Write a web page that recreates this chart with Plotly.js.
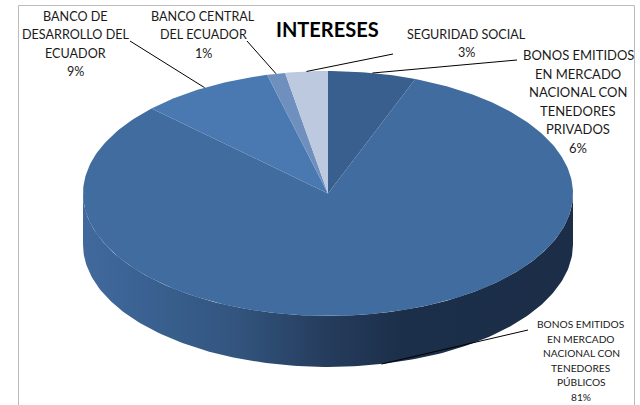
<!DOCTYPE html>
<html><head><meta charset="utf-8">
<script src="https://cdn.plot.ly/plotly-3.0.1.min.js"></script>
<style>html,body{margin:0;padding:0;background:#fff}</style></head>
<body><div id="chart" style="width:640px;height:405px"></div>
<script>
const categories = ["BONOS EMITIDOS EN MERCADO NACIONAL CON TENEDORES PRIVADOS","BONOS EMITIDOS EN MERCADO NACIONAL CON TENEDORES PÚBLICOS","BANCO DE DESARROLLO DEL ECUADOR","BANCO CENTRAL DEL ECUADOR","SEGURIDAD SOCIAL"];
const values = [5.8, 81.4, 8.8, 1.2, 2.8];
const sliceColors = ["#385F8D","#416CA0","#4A79B1","#6F90BF","#BDC9DE"];
const labelLines = [
  ["BONOS EMITIDOS","EN MERCADO","NACIONAL CON","TENEDORES","PRIVADOS"],
  ["BONOS EMITIDOS","EN MERCADO","NACIONAL CON","TENEDORES","PÚBLICOS"],
  ["BANCO DE","DESARROLLO DEL","ECUADOR"],
  ["BANCO CENTRAL","DEL ECUADOR"],
  ["SEGURIDAD SOCIAL"]
];
// label layout: centre x, first-line y, line pitch, font size, elbow of leader line
const labelX = [578, 581, 75, 203, 466];
const labelY = [55, 324, 16, 16, 34];
const labelPitch = [18.6, 14.6, 18.6, 18.6, 18];
const labelSize = [13, 10.2, 12.6, 12.6, 12.6];
const elbowX = [517, 528, 130, 247, 393];
const elbowY = [60, 330, 41, 41, 54];
const frameX = [18.5, 18.5, 634.5, 634.5];
const frameY = [405, 5.5, 5.5, 405];

const cx = 328, cy = 193.5, rx = 245, ry = 122.5, depth = 51;
const ex = a => cx + rx * Math.sin(a), ey = a => cy - ry * Math.cos(a);
const total = values.reduce((s, v) => s + v, 0);
const traces = [];

// chart frame
traces.push({type:'scatter',mode:'lines',x:frameX,y:frameY,line:{color:'#BBBBBB',width:1},hoverinfo:'skip'});

// side wall
const sx = [], sy = [];
for (let i = 0; i <= 180; i++) { const a = Math.PI/2 + i*Math.PI/180; sx.push(ex(a)); sy.push(ey(a)+depth); }
for (let i = 180; i >= 0; i--) { const a = Math.PI/2 + i*Math.PI/180; sx.push(ex(a)); sy.push(ey(a)); }
traces.push({type:'scatter',mode:'lines',x:sx,y:sy,fill:'toself',line:{width:0},hoverinfo:'skip',
  fillgradient:{type:'horizontal',colorscale:[[0,'#41699C'],[0.1,'#3B6394'],[0.3,'#335680'],[0.5,'#253C5C'],[0.65,'#1C2F4A'],[1,'#1B2D47']]}});

// top wedges
let acc = 0; const mids = [];
values.forEach((v,k) => {
  const a0 = acc/total*2*Math.PI, a1 = (acc+v)/total*2*Math.PI; acc += v;
  mids.push((a0+a1)/2);
  const n = Math.max(4, Math.ceil(v*4)), x=[cx], y=[cy];
  for (let i=0;i<=n;i++){const a=a0+(a1-a0)*i/n; x.push(ex(a)); y.push(ey(a));}
  x.push(cx); y.push(cy);
  traces.push({type:'scatter',mode:'lines',x,y,fill:'toself',fillcolor:sliceColors[k],line:{width:0},name:categories[k],hoverinfo:'name'});
});

// leader lines
values.forEach((v,k) => {
  const a = mids[k], front = Math.cos(a) < -0.5;
  traces.push({type:'scatter',mode:'lines',x:[elbowX[k],ex(a)],y:[elbowY[k],ey(a)+(front?depth:0)],
    line:{color:'#000',width:1},hoverinfo:'skip'});
});

const annotations = [{xref:'x',yref:'y',x:327,y:29,text:'<b>INTERESES</b>',showarrow:false,font:{family:'Lato',size:20,color:'#000'}}];
labelLines.forEach((lines,k) => {
  lines.concat([Math.round(values[k]/total*100)+'%']).forEach((t,i) => annotations.push({
    xref:'x',yref:'y',x:labelX[k],y:labelY[k]+i*labelPitch[k],text:t,showarrow:false,
    font:{family:'Lato',size:labelSize[k],color:'#1a1a1a'}}));
});

Plotly.newPlot('chart',traces,{
  width:640,height:405,margin:{l:0,r:0,t:0,b:0},showlegend:false,
  paper_bgcolor:'#fff',plot_bgcolor:'#fff',
  xaxis:{range:[0,640],visible:false,fixedrange:true},
  yaxis:{range:[405,0],visible:false,fixedrange:true},
  annotations
},{displayModeBar:false,staticPlot:true});
</script></body></html>
